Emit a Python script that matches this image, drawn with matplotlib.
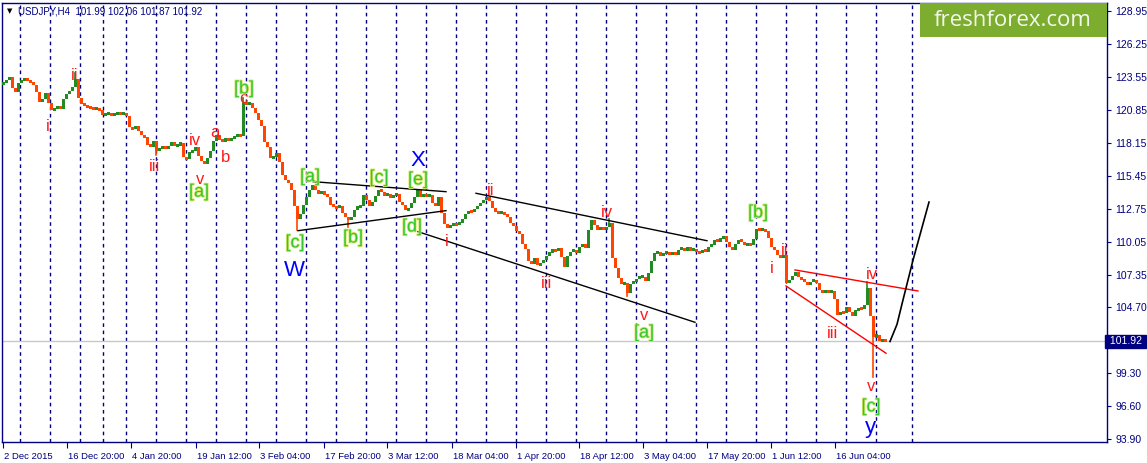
import numpy as np
import matplotlib.pyplot as plt
import matplotlib.patheffects as pe
import matplotlib.transforms as mtransforms
from matplotlib.patches import Rectangle

# USDJPY H4 closes, sampled every 3 bars (x = bar column on the chart)
first_bar = 3
bar_step = 3
closes = [
    123.0, 123.3, 123.5, 122.6, 122.3, 123.0, 123.3, 123.4, 123.2, 123.1,
    122.9, 122.3, 121.5, 121.7, 122.2, 121.4, 120.8, 121.0, 121.1, 120.9,
    121.7, 122.1, 122.4, 122.7, 123.4, 121.8, 121.3, 121.2, 121.1, 121.0,
    120.9, 120.95, 120.8, 120.4, 120.5, 120.6, 120.4, 120.5, 120.6, 120.55,
    120.6, 120.3, 119.4, 119.3, 119.5, 119.1, 118.8, 118.6, 118.0, 117.8,
    118.3, 117.5, 117.7, 117.8, 117.7, 117.9, 118.2, 117.9, 118.0, 118.1,
    117.0, 116.8, 117.4, 117.5, 117.8, 117.1, 116.7, 116.4, 116.9, 117.5,
    118.3, 118.8, 118.4, 118.3, 118.45, 118.4, 118.5, 118.65, 118.8, 118.7,
    121.4, 121.3, 121.4, 121.0, 120.6, 120.0, 119.5, 118.2, 117.8, 116.9,
    117.0, 117.3, 116.6, 115.5, 115.1, 114.85, 114.3, 112.95, 111.9, 112.3,
    113.1, 113.7, 114.3, 114.7, 114.3, 114.0, 114.2, 113.9, 113.75, 113.05,
    112.95, 112.8, 113.0, 112.4, 112.1, 111.85, 112.1, 112.65, 112.95, 113.0,
    113.9, 113.45, 113.0, 113.3, 113.8, 114.3, 114.15, 113.8, 114.0, 113.6,
    113.9, 114.0, 113.3, 113.05, 112.65, 112.8, 113.2, 113.75, 114.3, 113.7,
    113.9, 113.75, 113.9, 113.2, 113.0, 113.7, 112.4, 111.5, 111.2, 111.4,
    111.55, 111.45, 111.6, 111.9, 112.3, 112.6, 112.5, 112.75, 113.0, 113.2,
    113.5, 113.75, 113.4, 112.8, 112.5, 112.4, 112.5, 112.3, 112.1, 111.6,
    111.35, 110.9, 110.65, 109.9, 109.45, 108.5, 108.2, 108.7, 108.15, 108.3,
    108.55, 108.9, 109.2, 109.4, 109.35, 109.55, 108.8, 108.0, 108.85, 109.25,
    109.4, 109.1, 109.65, 109.9, 109.55, 111.0, 111.8, 111.45, 111.0, 111.3,
    111.0, 111.3, 111.6, 108.7, 107.9, 107.1, 106.6, 106.7, 105.9, 106.6,
    106.8, 107.0, 107.2, 107.2, 106.85, 107.5, 108.5, 109.1, 109.25, 108.9,
    109.1, 109.2, 108.95, 109.25, 109.0, 109.4, 109.55, 109.3, 109.6, 109.3,
    109.5, 109.2, 109.1, 109.4, 109.25, 109.65, 109.8, 110.2, 110.05, 110.35,
    110.5, 110.05, 109.6, 109.4, 109.9, 110.2, 110.05, 109.8, 109.9, 109.8,
    110.3, 111.1, 111.0, 111.05, 110.9, 110.4, 109.6, 109.4, 109.0, 108.7,
    108.95, 106.7, 106.95, 107.25, 107.6, 107.2, 106.95, 106.8, 106.55, 106.8,
    106.95, 106.7, 106.1, 105.95, 106.05, 105.95, 106.0, 105.4, 104.05, 104.35,
    104.2, 104.75, 104.35, 103.95, 104.5, 104.6, 104.55, 104.9, 106.3, 104.0,
    102.3, 102.4, 101.9, 102.05, 101.92,
]

# long shadows worth showing
wick_bars = [75, 156, 243, 297, 348, 609, 627, 867, 873]
wick_prices = [123.85, 117.15, 121.8, 111.0, 111.3, 111.9, 105.6, 106.8, 99.0]

last_price = 101.92
header = "USDJPY,H4  101.99 102.06 101.87 101.92"

# weekly period separators
separators = [20, 50, 80, 103, 126, 156, 186, 216, 246, 276, 306, 336, 366,
              396, 426, 456, 486, 516, 546, 576, 606, 636, 666, 696, 726,
              756, 786, 816, 846, 876, 912]

date_ticks = [3, 67, 131, 196, 259, 324, 387, 452, 516, 579, 643, 707, 771, 835]
date_labels = ["2 Dec 2015", "16 Dec 20:00", "4 Jan 20:00", "19 Jan 12:00",
               "3 Feb 04:00", "17 Feb 20:00", "3 Mar 12:00", "18 Mar 04:00",
               "1 Apr 20:00", "18 Apr 12:00", "3 May 04:00", "17 May 20:00",
               "1 Jun 12:00", "16 Jun 04:00"]
price_ticks = [128.95, 126.25, 123.55, 120.85, 118.15, 115.45, 112.75,
               110.05, 107.35, 104.70, 99.30, 96.60, 93.90]

# drawn trend lines: (bars, prices)
triangle_top = ([313, 446], [114.97, 114.15])
triangle_bottom = ([298, 446], [110.96, 112.6])
channel_top = ([476, 707], [114.02, 110.14])
channel_bottom = ([418, 695], [110.88, 103.47])
wedge_top = ([795, 918], [107.75, 106.03])
wedge_bottom = ([786, 886], [106.44, 100.94])
projection = ([890, 897, 903, 913, 929], [101.9, 103.3, 105.3, 108.55, 113.3])

# wave marks: text, bar, price, degree
wave_text = ["i", "ii", "iii", "iv", "v", "[a]", "a", "b", "c", "[b]",
             "[c]", "W", "[a]", "[b]", "[c]", "X", "[e]", "[d]",
             "i", "ii", "iii", "iv", "v", "[a]",
             "[b]", "ii", "i", "iv", "iii", "v", "[c]", "y"]
wave_bar = [48, 75, 154, 195, 200, 199, 215, 226, 243, 244,
            295, 294, 310, 353, 379, 418, 418, 412,
            447, 491, 547, 607, 644, 644,
            758, 785, 772, 872, 833, 871, 871, 870]
wave_price = [119.44, 123.69, 116.25, 118.30, 115.11, 114.11, 118.95, 116.91, 121.81, 122.55,
              109.96, 107.67, 115.35, 110.36, 115.27, 116.74, 115.11, 111.26,
              110.04, 114.21, 106.68, 112.41, 103.99, 102.60,
              112.41, 109.38, 107.83, 107.34, 102.52, 98.18, 96.55, 94.83]
wave_degree = ["minor", "minor", "minor", "minor", "minor", "minute", "minor", "minor", "minor", "minute",
               "minute", "major", "minute", "minute", "minute", "major", "minute", "minute",
               "minor", "minor", "minor", "minor", "minor", "minute",
               "minute", "minor", "minor", "minor", "minor", "minor", "minute", "major"]

navy = "#000080"
up_col = "#228b22"
down_col = "#ff4500"
min_body = 0.25

fig = plt.figure(figsize=(11.47, 4.63), dpi=100)
fig.patch.set_facecolor("white")
ax = fig.add_axes([2 / 1147, 21 / 463, 1105 / 1147, 439 / 463])
ax.set_xlim(2, 1107)
ax.set_ylim(93.68, 129.58)

for s in separators:
    ax.axvline(s, color=navy, lw=1.0, ls=(0, (2.6, 2.6)), zorder=1)
ax.axhline(last_price, color="#c8c8c8", lw=1, zorder=1)

c = np.array(closes)
x = first_bar + bar_step * np.arange(len(c))
o = np.concatenate([[c[0]], c[:-1]])
cols = np.where(c >= o, up_col, down_col)
lo = np.minimum(o, c)
hi = np.maximum(o, c)
mid = (lo + hi) / 2
h = np.maximum(hi - lo, min_body)
ax.bar(x, h, bottom=mid - h / 2, width=bar_step, color=cols, linewidth=0, zorder=3)
for wb, wp in zip(wick_bars, wick_prices):
    i = int(np.argmin(np.abs(x - wb)))
    ax.plot([x[i], x[i]], [wp, lo[i] if wp < lo[i] else hi[i]],
            color=cols[i], lw=1.2, zorder=3)

for bx, py in [triangle_top, triangle_bottom, channel_top, channel_bottom]:
    ax.plot(bx, py, color="black", lw=1, zorder=4)
for bx, py in [wedge_top, wedge_bottom]:
    ax.plot(bx, py, color="red", lw=1, zorder=4)
ax.plot(*projection, color="black", lw=1.2, zorder=4)

styles = {
    "minor": dict(color="#ff1a1a", fontsize=12),
    "minute": dict(color="#33c633", fontsize=13,
                   path_effects=[pe.withStroke(linewidth=1.2, foreground="#d8e86a")]),
    "major": dict(color="#0000ff", fontsize=16),
}
for t, b, p, d in zip(wave_text, wave_bar, wave_price, wave_degree):
    ax.text(b, p, t, ha="center", va="center", family="Liberation Sans",
            zorder=5, **styles[d])

for sp in ax.spines.values():
    sp.set_color(navy)
    sp.set_linewidth(1)

ax.yaxis.tick_right()
ax.set_yticks(price_ticks)
ax.set_yticklabels([f"{v:.2f}" for v in price_ticks])
ax.tick_params(axis="y", colors=navy, length=3, pad=3, labelsize=7.5)
ax.set_xticks(date_ticks)
ax.set_xticklabels(date_labels, ha="left")
ax.tick_params(axis="x", colors=navy, length=4, pad=3, labelsize=6.8)
shift = mtransforms.ScaledTranslation(1 / 100, 0, fig.dpi_scale_trans)
for lab in ax.get_xticklabels():
    lab.set_transform(lab.get_transform() + shift)
for lab in ax.get_xticklabels() + ax.get_yticklabels():
    lab.set_family("Liberation Sans")

# last price box
ax.text(1.0, last_price, " " + f"{last_price:.2f}" + " ", transform=ax.get_yaxis_transform(),
        ha="left", va="center", color="white", fontsize=7.5, family="Liberation Sans",
        bbox=dict(boxstyle="square,pad=0.15", fc=navy, ec=navy), clip_on=False)

# header
fig.text(7 / 1147, 1 - 11 / 463, "\u25bc", fontsize=5, color="black", va="center")
fig.text(18 / 1147, 1 - 11 / 463, header, fontsize=7, color=navy, va="center",
         family="Liberation Sans")

# logo
fig.patches.append(Rectangle((920 / 1147, 1 - 37 / 463), 187 / 1147, 34 / 463,
                             transform=fig.transFigure, fc="#7cad2e", ec="none", zorder=10))
fig.text(1013 / 1147, 1 - 20 / 463, "freshforex.com", fontsize=16, color="#f4f8ec",
         ha="center", va="center", family="Open Sans", zorder=11)

fig.savefig("out.png", dpi=100)
